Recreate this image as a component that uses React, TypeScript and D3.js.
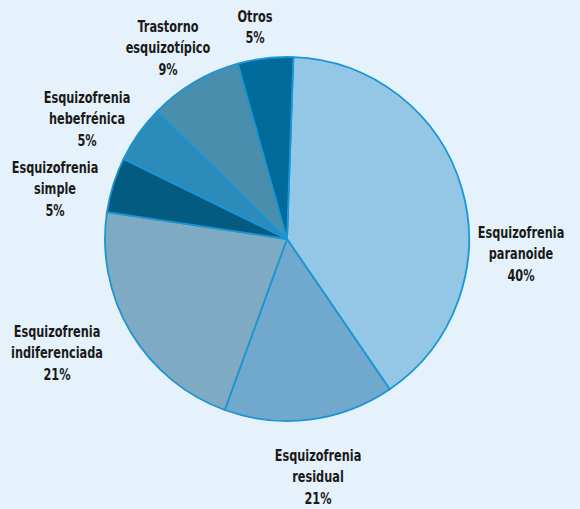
import React from "react";
import * as d3 from "d3";

const categories = [
  "Esquizofrenia paranoide",
  "Esquizofrenia residual",
  "Esquizofrenia indiferenciada",
  "Esquizofrenia simple",
  "Esquizofrenia hebefrénica",
  "Trastorno esquizotípico",
  "Otros",
];
// slice sizes as drawn (measured angles, % of circle)
const sliceValues = [39.9, 15.1, 21.8, 4.9, 5.1, 8.3, 4.9];
// percentages as printed on the labels
const labelPercents = ["40%", "21%", "21%", "5%", "5%", "9%", "5%"];
const labelLines = [
  ["Esquizofrenia", "paranoide"],
  ["Esquizofrenia", "residual"],
  ["Esquizofrenia", "indiferenciada"],
  ["Esquizofrenia", "simple"],
  ["Esquizofrenia", "hebefrénica"],
  ["Trastorno", "esquizotípico"],
  ["Otros"],
];
const colors = ["#94c6e6", "#70a9cd", "#7eaac4", "#035b82", "#2b8cbb", "#4a8eae", "#006a9b"];
// label anchor (center x, first baseline y)
const labelPos: [number, number][] = [
  [521, 238],
  [318, 461],
  [57, 337],
  [55, 173],
  [87, 103],
  [168, 32],
  [255, 22],
];

const W = 580;
const H = 509;
const cx = 287;
const cy = 239;
const R = 182;
const startDeg = 2;

export default function App() {
  const data = categories.map((c, i) => ({ c, v: sliceValues[i], i }));
  const start = (startDeg * Math.PI) / 180;
  const pie = d3
    .pie<{ c: string; v: number; i: number }>()
    .sort(null)
    .value((d) => d.v)
    .startAngle(start)
    .endAngle(start + 2 * Math.PI);
  const arcs = pie(data);
  const arc = d3.arc<d3.PieArcDatum<{ c: string; v: number; i: number }>>().innerRadius(0).outerRadius(R);
  const font = "'Liberation Sans Narrow', 'DejaVu Sans Condensed', 'Arial Narrow', sans-serif";
  const lh = 21.5;
  return (
    <svg
      width={W}
      height={H}
      style={{ position: "absolute", left: 0, top: 0, display: "block" }}
      xmlns="http://www.w3.org/2000/svg"
    >
      <rect x={0} y={0} width={W} height={H} fill="#e6f2fb" />
      <g transform={`translate(${cx},${cy})`}>
        {arcs.map((a) => (
          <path
            key={a.data.c}
            d={arc(a) || ""}
            fill={colors[a.data.i]}
            stroke="#1a96d2"
            strokeWidth={1.8}
            strokeLinejoin="round"
          />
        ))}
      </g>
      {categories.map((c, i) => {
        const [x, y] = labelPos[i];
        const lines = [...labelLines[i], labelPercents[i]];
        return (
          <text
            key={c}
            transform={`translate(${x},${y}) scale(0.84,1)`}
            x={0}
            y={0}
            textAnchor="middle"
            fontFamily={font}
            fontWeight="bold"
            fontSize={15}
            fill="#1a1a1a"
          >
            {lines.map((l, j) => (
              <tspan key={j} x={0} y={j * lh}>
                {l}
              </tspan>
            ))}
          </text>
        );
      })}
    </svg>
  );
}
